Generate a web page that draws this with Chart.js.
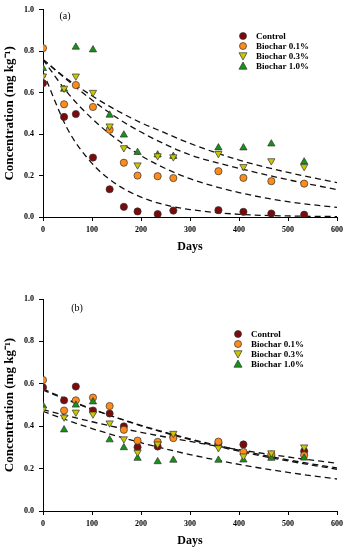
<!DOCTYPE html>
<html>
<head>
<meta charset="utf-8">
<script src="https://cdn.jsdelivr.net/npm/chart.js"></script>
<style>
  html, body { margin: 0; padding: 0; background: #fff; }
  canvas { display: block; }
</style>
</head>
<body>
<canvas id="chartA" width="347" height="275"></canvas>
<canvas id="chartB" width="347" height="275"></canvas>
<script>
// sampling days (same for both panels)
const days = [0, 43, 67, 102, 136, 165, 193, 234, 266, 358, 409, 466, 533];

// panel (a)
const aControl = [0.646, 0.483, 0.497, 0.287, 0.134, 0.049, 0.027, 0.014, 0.031, 0.033, 0.025, 0.017, 0.011];
const aB01 = [0.815, 0.544, 0.637, 0.531, 0.421, 0.262, 0.200, 0.197, 0.188, 0.221, 0.189, 0.173, 0.161];
const aB03 = [0.680, 0.621, 0.680, 0.601, 0.439, 0.334, 0.251, 0.295, 0.290, 0.306, 0.243, 0.271, 0.243];
const aB10 = [0.717, 0.617, 0.820, 0.807, 0.492, 0.396, 0.312, 0.300, 0.293, 0.334, 0.334, 0.353, 0.266];

// panel (b)
const bControl = [0.583, 0.522, 0.587, 0.474, 0.460, 0.399, 0.301, 0.304, 0.352, 0.320, 0.314, 0.258, 0.282];
const bB01 = [0.618, 0.474, 0.522, 0.535, 0.495, 0.383, 0.332, 0.326, 0.344, 0.327, 0.279, 0.266, 0.263];
const bB03 = [0.480, 0.443, 0.466, 0.457, 0.415, 0.340, 0.277, 0.316, 0.366, 0.298, 0.259, 0.274, 0.302];
const bB10 = [0.497, 0.383, 0.500, 0.515, 0.336, 0.299, 0.249, 0.233, 0.240, 0.240, 0.241, 0.249, 0.250];

// fitted decay curves
const fitDays = [0, 50, 100, 150, 200, 250, 300, 400, 500, 600];
const aFit1 = [0.70, 0.425, 0.259, 0.158, 0.096, 0.058, 0.036, 0.013, 0.005, 0.002];
const aFit2 = [0.76, 0.600, 0.475, 0.376, 0.296, 0.234, 0.185, 0.118, 0.074, 0.046];
const aFit3 = [0.76, 0.660, 0.565, 0.480, 0.410, 0.350, 0.300, 0.235, 0.180, 0.132];
const aFit4 = [0.76, 0.665, 0.585, 0.515, 0.455, 0.405, 0.355, 0.275, 0.215, 0.166];
const bFit1 = [0.575, 0.526, 0.481, 0.440, 0.402, 0.368, 0.337, 0.282, 0.236, 0.197];
const bFit2 = [0.570, 0.523, 0.480, 0.441, 0.404, 0.371, 0.340, 0.287, 0.241, 0.203];
const bFit3 = [0.478, 0.449, 0.421, 0.395, 0.371, 0.349, 0.328, 0.289, 0.255, 0.225];
const bFit4 = [0.470, 0.428, 0.389, 0.354, 0.322, 0.293, 0.266, 0.220, 0.182, 0.151];

const seriesNames = ['Control', 'Biochar 0.1%', 'Biochar 0.3%', 'Biochar 1.0%'];
const yTicks = ['0.0', '0.2', '0.4', '0.6', '0.8', '1.0'];

const SERIF = '"Liberation Serif", "Times New Roman", serif';
const styles = [
  { color: '#7d0a0a', shape: 'circle', rot: 0, order: 3 },
  { color: '#ff8c1a', shape: 'circle', rot: 0, order: 2 },
  { color: '#c9c700', shape: 'triangle', rot: 180, order: 0 },
  { color: '#149414', shape: 'triangle', rot: 0, order: 1 }
];

function pts(xs, ys) { return xs.map((x, i) => ({ x: x, y: ys[i] })); }

function drawMarker(ctx, st, x, y, r) {
  ctx.beginPath();
  if (st.shape === 'circle') {
    ctx.arc(x, y, r, 0, Math.PI * 2);
  } else {
    const s = st.rot === 180 ? -1 : 1;
    const h = r * 1.15;
    ctx.moveTo(x, y - s * h);
    ctx.lineTo(x + h, y + s * h * 0.8);
    ctx.lineTo(x - h, y + s * h * 0.8);
    ctx.closePath();
  }
  ctx.fillStyle = st.color;
  ctx.fill();
  ctx.lineWidth = 0.7;
  ctx.strokeStyle = '#333';
  ctx.stroke();
}

// panel label and legend inside the plot
const overlay = {
  id: 'overlay',
  afterDraw(chart, args, opts) {
    const ctx = chart.ctx;
    ctx.save();
    ctx.fillStyle = '#000';
    ctx.font = '10px ' + SERIF;
    ctx.textAlign = 'center';
    ctx.textBaseline = 'middle';
    ctx.fillText(opts.label, opts.labelX, opts.labelY);
    ctx.font = 'bold 9px ' + SERIF;
    ctx.textAlign = 'left';
    seriesNames.forEach((name, i) => {
      const y = opts.legY + i * 10;
      drawMarker(ctx, styles[i], opts.legX, y, 3.5);
      ctx.fillStyle = '#000';
      ctx.fillText(name, opts.legX + 13, y + 0.5);
    });
    ctx.restore();
  }
};

function makeChart(id, series, fits, pad, xHeight, titlePad, panel) {
  const datasets = [];
  series.forEach((ys, i) => {
    const st = styles[i];
    datasets.push({
      type: 'scatter',
      label: seriesNames[i],
      data: pts(days, ys),
      pointStyle: st.shape,
      pointRotation: st.rot,
      pointRadius: st.shape === 'circle' ? 3.6 : 4.2,
      backgroundColor: st.color,
      borderColor: '#333',
      borderWidth: 0.7,
      order: st.order
    });
  });
  fits.forEach(ys => {
    datasets.push({
      type: 'line',
      label: '',
      data: pts(fitDays, ys),
      borderColor: '#111',
      borderWidth: 1.3,
      borderDash: [6, 4],
      pointRadius: 0,
      fill: false,
      cubicInterpolationMode: 'monotone',
      order: 5
    });
  });

  return new Chart(document.getElementById(id), {
    type: 'scatter',
    data: { datasets: datasets },
    options: {
      responsive: false,
      animation: false,
      devicePixelRatio: 1,
      layout: { padding: pad },
      plugins: {
        legend: { display: false },
        tooltip: { enabled: false },
        overlay: panel
      },
      scales: {
        x: {
          type: 'linear',
          min: 0, max: 600,
          afterFit: s => { s.height = xHeight; },
          grid: { display: true, drawOnChartArea: false, drawTicks: true, tickLength: 4, color: '#000' },
          border: { display: true, color: '#000', width: 1 },
          ticks: { stepSize: 100, padding: 4, color: '#000', font: { family: SERIF, size: 8, weight: 'bold' }, maxRotation: 0 },
          title: { display: true, text: 'Days', color: '#000', font: { family: SERIF, size: 12, weight: 'bold' }, padding: { top: 0, bottom: titlePad } }
        },
        y: {
          type: 'linear',
          min: 0, max: 1,
          afterFit: s => { s.width = 43; },
          grid: { display: true, drawOnChartArea: false, drawTicks: true, tickLength: 4, color: '#000' },
          border: { display: true, color: '#000', width: 1 },
          ticks: {
            stepSize: 0.2, padding: 5, color: '#000',
            font: { family: SERIF, size: 8, weight: 'bold' },
            callback: v => yTicks[Math.round(v * 5)]
          },
          title: { display: true, text: 'Concentration (mg kg\u207B\u00B9)', color: '#000', font: { family: SERIF, size: 13, weight: 'bold' }, padding: { top: 2, bottom: 0 } }
        }
      }
    },
    plugins: [overlay]
  });
}

makeChart('chartA', [aControl, aB01, aB03, aB10], [aFit1, aFit2, aFit3, aFit4],
  { top: 6, right: 9, bottom: 0, left: 0 }, 58, 21,
  { label: '(a)', labelX: 65, labelY: 16, legX: 243, legY: 36 });

makeChart('chartB', [bControl, bB01, bB03, bB10], [bFit1, bFit2, bFit3, bFit4],
  { top: 24, right: 9, bottom: 0, left: 0 }, 39, 2,
  { label: '(b)', labelX: 77, labelY: 33, legX: 238, legY: 59 });
</script>
</body>
</html>
